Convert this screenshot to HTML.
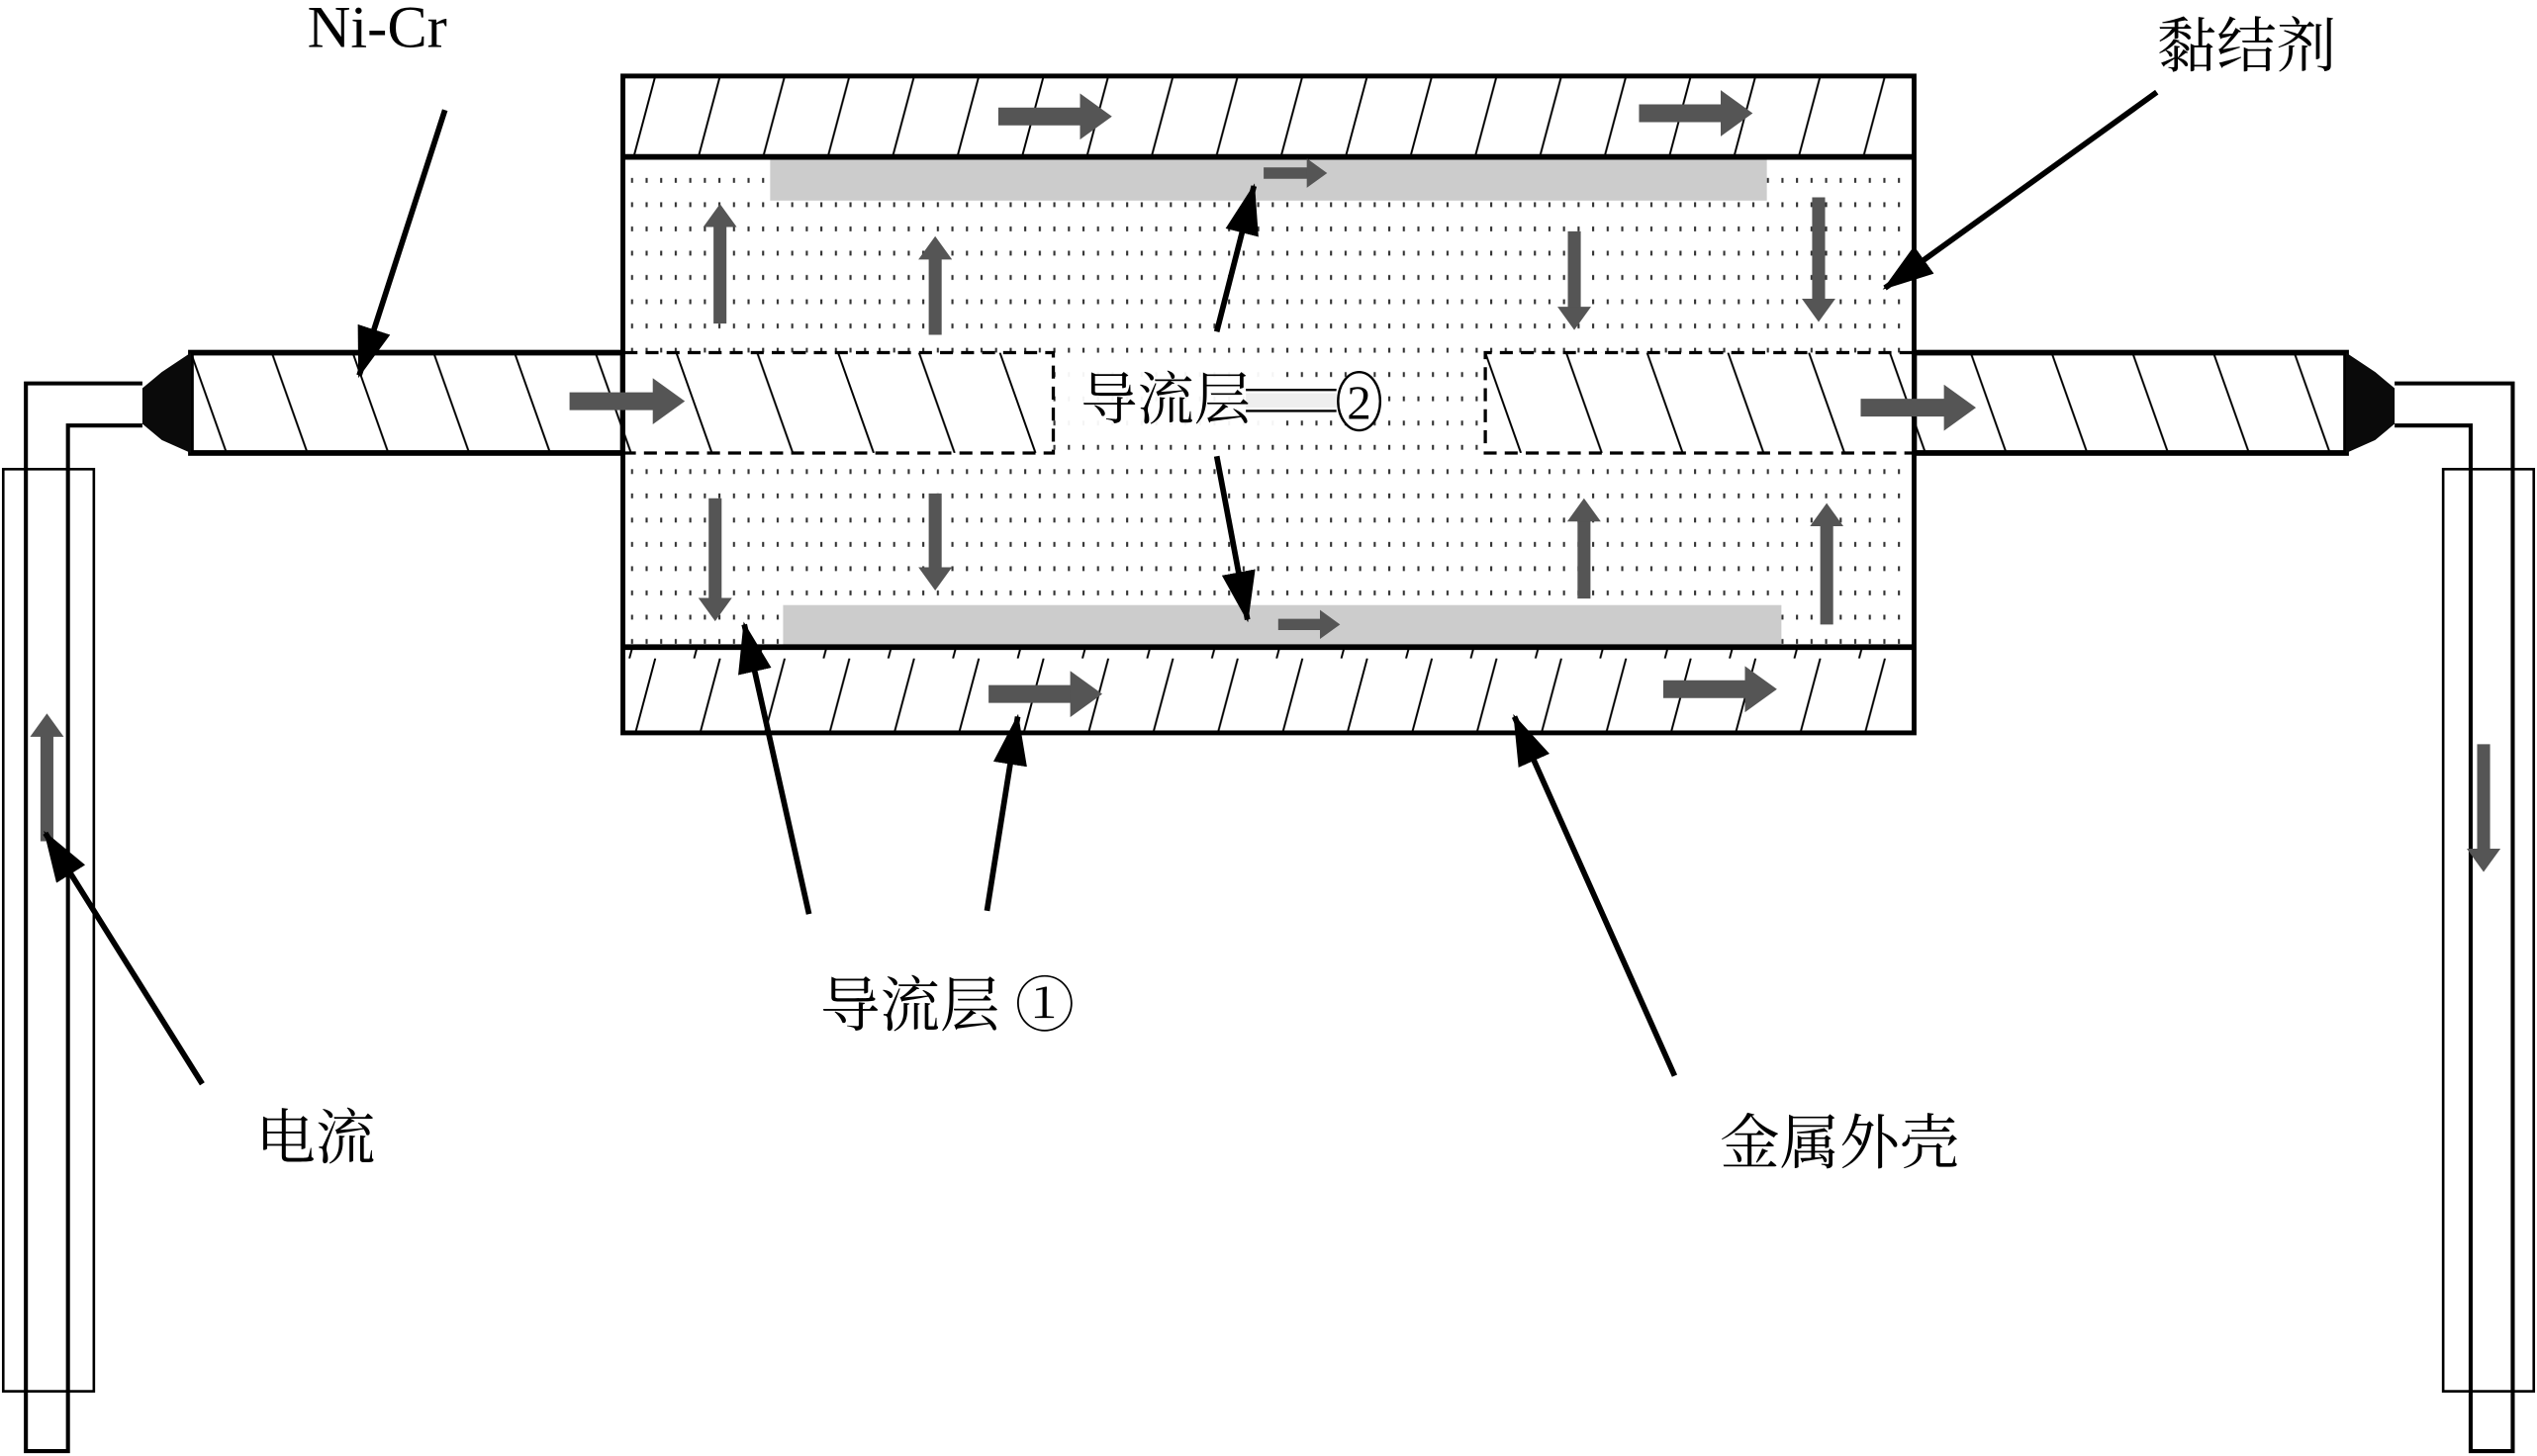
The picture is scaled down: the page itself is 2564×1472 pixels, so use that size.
<!DOCTYPE html>
<html><head><meta charset="utf-8">
<style>
html,body{margin:0;padding:0;background:#fff;}
svg{display:block;}
text{font-family:"Liberation Serif","Noto Serif CJK SC",serif;fill:#000;}
</style></head>
<body>
<svg width="2564" height="1472" viewBox="0 0 1568 900" preserveAspectRatio="none" xmlns="http://www.w3.org/2000/svg">
<defs>
  <pattern id="hatch1" patternUnits="userSpaceOnUse" width="40" height="60" patternTransform="translate(385,47)">
    <line x1="4" y1="60" x2="20" y2="0" stroke="#000" stroke-width="1.2"/>
    <line x1="-36" y1="60" x2="-20" y2="0" stroke="#000" stroke-width="1.2"/>
    <line x1="44" y1="60" x2="60" y2="0" stroke="#000" stroke-width="1.2"/>
  </pattern>
  <pattern id="hatch2" patternUnits="userSpaceOnUse" width="50" height="62" patternTransform="translate(118,218)">
    <line x1="0" y1="0" x2="22" y2="62" stroke="#000" stroke-width="1.2"/>
    <line x1="50" y1="0" x2="72" y2="62" stroke="#000" stroke-width="1.2"/>
    <line x1="-50" y1="0" x2="-28" y2="62" stroke="#000" stroke-width="1.2"/>
  </pattern>
  <pattern id="dots" patternUnits="userSpaceOnUse" width="9" height="15">
    <rect x="3" y="5" width="1.3" height="3" fill="#333"/>
  </pattern>
  <marker id="g" markerUnits="strokeWidth" markerWidth="1.8" markerHeight="2.6" refX="0.05" refY="1.3" orient="auto">
    <path d="M0,0 L1.8,1.3 L0,2.6 z" fill="#555"/>
  </marker>
  <marker id="b" markerUnits="strokeWidth" markerWidth="9" markerHeight="6" refX="8.5" refY="3" orient="auto">
    <path d="M0,0 L9,3 L0,6 z" fill="#000"/>
  </marker>
</defs>

<rect x="2" y="290" width="56" height="570" fill="none" stroke="#000" stroke-width="1.6"/>
<path d="M88,237 H16 V897 H42 V263 H88" fill="none" stroke="#000" stroke-width="2.5"/>
<rect x="1510" y="290" width="56" height="570" fill="none" stroke="#000" stroke-width="1.6"/>
<path d="M1480,237 H1553 V897 H1527 V263 H1480" fill="none" stroke="#000" stroke-width="2.5"/>

<rect x="118" y="218" width="267" height="62" fill="url(#hatch2)" stroke="#000" stroke-width="3.5"/>
<path d="M118,218 L100,230 L88,240 L88,262 L100,272 L118,280 z" fill="#0a0a0a"/>
<rect x="1183" y="218" width="267" height="62" fill="url(#hatch2)" stroke="#000" stroke-width="3.5"/>
<path d="M1450,218 L1468,230 L1480,240 L1480,262 L1468,272 L1450,280 z" fill="#0a0a0a"/>

<rect x="385" y="47" width="798" height="50" fill="url(#hatch1)"/>
<rect x="385" y="400" width="798" height="53" fill="url(#hatch1)"/>
<rect x="385" y="97" width="798" height="303" fill="#fff"/>
<rect x="385" y="97" width="798" height="303" fill="url(#dots)"/>
<rect x="386" y="218" width="265" height="62" fill="#fff"/>
<rect x="386" y="218" width="265" height="62" fill="url(#hatch2)"/>
<path d="M386,218 H651 V280 H386" fill="none" stroke="#000" stroke-width="2" stroke-dasharray="8,5"/>
<rect x="918" y="218" width="264" height="62" fill="#fff"/>
<rect x="918" y="218" width="264" height="62" fill="url(#hatch2)"/>
<path d="M1182,218 H918 V280 H1182" fill="none" stroke="#000" stroke-width="2" stroke-dasharray="8,5"/>
<rect x="476" y="97" width="616" height="27" fill="#cccccc"/>
<rect x="484" y="374" width="617" height="26" fill="#cccccc"/>
<line x1="385" y1="97" x2="1183" y2="97" stroke="#000" stroke-width="3.5"/>
<line x1="385" y1="400" x2="1183" y2="400" stroke="#000" stroke-width="3.5"/>
<rect x="385" y="47" width="798" height="406" fill="none" stroke="#000" stroke-width="3"/>

<rect x="655" y="222" width="135" height="50" fill="#fff" opacity="0.95"/>
<path d="M770,241 H826 M770,254 H826" stroke="#000" stroke-width="1.5"/>
<path d="M770,243 H826 V252 H770 z" fill="#eee"/>
<ellipse cx="840" cy="248" rx="13" ry="18" fill="#fff" stroke="#000" stroke-width="1.5"/>
<text x="840" y="259" font-size="30" text-anchor="middle">2</text>
<text x="668" y="259" font-size="35">导流层</text>

<g stroke="#555" fill="none" marker-end="url(#g)">
  <line x1="617" y1="72" x2="668" y2="72" stroke-width="11"/>
  <line x1="1013" y1="70" x2="1064" y2="70" stroke-width="11"/>
  <line x1="781" y1="107" x2="808" y2="107" stroke-width="7"/>
  <line x1="790" y1="386" x2="816" y2="386" stroke-width="7"/>
  <line x1="611" y1="429" x2="662" y2="429" stroke-width="11"/>
  <line x1="1028" y1="426" x2="1079" y2="426" stroke-width="11"/>
  <line x1="352" y1="248" x2="404" y2="248" stroke-width="11"/>
  <line x1="1150" y1="252" x2="1202" y2="252" stroke-width="11"/>
  <line x1="445" y1="200" x2="445" y2="140" stroke-width="8"/>
  <line x1="578" y1="207" x2="578" y2="160" stroke-width="8"/>
  <line x1="973" y1="143" x2="973" y2="190" stroke-width="8"/>
  <line x1="1124" y1="122" x2="1124" y2="185" stroke-width="8"/>
  <line x1="442" y1="308" x2="442" y2="370" stroke-width="8"/>
  <line x1="578" y1="305" x2="578" y2="351" stroke-width="8"/>
  <line x1="979" y1="370" x2="979" y2="322" stroke-width="8"/>
  <line x1="1129" y1="386" x2="1129" y2="325" stroke-width="8"/>
  <line x1="29" y1="520" x2="29" y2="455" stroke-width="8"/>
  <line x1="1535" y1="460" x2="1535" y2="525" stroke-width="8"/>
</g>

<g stroke="#000" stroke-width="3.5" fill="none" marker-end="url(#b)">
  <line x1="275" y1="68" x2="222" y2="232"/>
  <line x1="1333" y1="57" x2="1165" y2="178"/>
  <line x1="752" y1="205" x2="775" y2="115"/>
  <line x1="752" y1="282" x2="771" y2="383"/>
  <line x1="500" y1="565" x2="460" y2="386"/>
  <line x1="610" y1="563" x2="629" y2="443"/>
  <line x1="1035" y1="665" x2="936" y2="443"/>
  <line x1="125" y1="670" x2="28" y2="515"/>
</g>

<text x="190" y="29" font-size="37">Ni-Cr</text>
<text x="1333" y="41" font-size="37">黏结剂</text>
<text x="507" y="634" font-size="37">导流层 ①</text>
<text x="158" y="716" font-size="37">电流</text>
<text x="1063" y="719" font-size="37">金属外壳</text>
</svg>
</body></html>
